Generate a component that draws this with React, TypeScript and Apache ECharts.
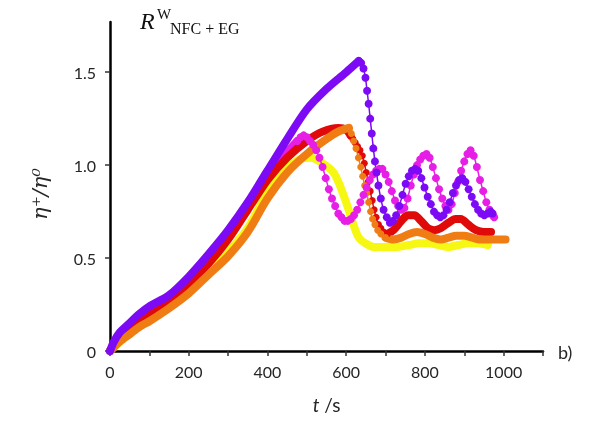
import React, { useEffect, useRef } from 'react';
import * as echarts from 'echarts';

// time (s), eta+/eta0
const purpleRise: [number, number][] = [
  [0, 0], [10, 0.05], [25, 0.1], [50, 0.15], [75, 0.2], [100, 0.24], [150, 0.3], [200, 0.4],
  [250, 0.52], [300, 0.65], [350, 0.8], [400, 0.97], [450, 1.14], [500, 1.3], [550, 1.41],
  [600, 1.5], [632, 1.56],
];
const purpleFall: [number, number][] = [
  [632, 1.56], [638, 1.55], [644, 1.52], [649, 1.47], [653, 1.4], [657, 1.33], [661, 1.25],
  [665, 1.17], [669, 1.09], [673, 1.02], [677, 0.96], [682, 0.89], [688, 0.82], [695, 0.76],
  [703, 0.72], [711, 0.69], [719, 0.7], [727, 0.73], [735, 0.78], [743, 0.84], [751, 0.9],
  [759, 0.94], [767, 0.97], [775, 0.98], [783, 0.97], [791, 0.93], [799, 0.88], [807, 0.83],
  [815, 0.79], [823, 0.75], [831, 0.73], [839, 0.72], [847, 0.73], [855, 0.76], [863, 0.8],
  [871, 0.85], [879, 0.89], [887, 0.92], [895, 0.93], [903, 0.91], [911, 0.87], [919, 0.83],
  [927, 0.79], [935, 0.76], [943, 0.74], [951, 0.73], [959, 0.74], [967, 0.75], [972, 0.74],
];
const magentaRise: [number, number][] = [
  [0, 0], [25, 0.08], [50, 0.13], [100, 0.21], [150, 0.28], [200, 0.37], [250, 0.48],
  [300, 0.61], [350, 0.77], [400, 0.93], [450, 1.07], [476, 1.13],
];
const magentaFall: [number, number][] = [
  [476, 1.13], [484, 1.15], [492, 1.16], [500, 1.15], [508, 1.13], [516, 1.11], [524, 1.08],
  [532, 1.04], [540, 0.99], [548, 0.93], [556, 0.87], [564, 0.82], [572, 0.78], [580, 0.74],
  [588, 0.72], [596, 0.7], [604, 0.7], [612, 0.71], [620, 0.73], [628, 0.76], [636, 0.8],
  [644, 0.84], [652, 0.88], [660, 0.92], [668, 0.95], [676, 0.97], [684, 0.98], [692, 0.98],
  [700, 0.95], [708, 0.91], [716, 0.86], [724, 0.81], [732, 0.78], [740, 0.76], [748, 0.77],
  [756, 0.82], [764, 0.89], [772, 0.95], [780, 1.0], [788, 1.03], [796, 1.05], [804, 1.06],
  [812, 1.04], [820, 0.99], [828, 0.93], [836, 0.87], [844, 0.82], [852, 0.78], [860, 0.76],
  [868, 0.79], [876, 0.85], [884, 0.91], [892, 0.97], [900, 1.02], [908, 1.06], [916, 1.08],
  [924, 1.05], [932, 0.99], [940, 0.92], [948, 0.86], [956, 0.8], [964, 0.76], [972, 0.73],
  [976, 0.72],
];
const redRise: [number, number][] = [
  [0, 0], [10, 0.03], [25, 0.07], [50, 0.12], [75, 0.16], [100, 0.2], [150, 0.27], [200, 0.36],
  [250, 0.47], [300, 0.6], [350, 0.76], [400, 0.92], [450, 1.04], [500, 1.13], [540, 1.18],
  [580, 1.2], [600, 1.19], [611, 1.16],
];
const redFall: [number, number][] = [
  [611, 1.16], [617, 1.14], [623, 1.12], [629, 1.1], [635, 1.08], [641, 1.05], [646, 1.01],
  [651, 0.96], [656, 0.91], [661, 0.86], [666, 0.81], [671, 0.76], [676, 0.72], [682, 0.68],
  [688, 0.66], [695, 0.64], [705, 0.63],
];
const redTail: [number, number][] = [
  [705, 0.63], [720, 0.65], [740, 0.7], [757, 0.73], [773, 0.73], [790, 0.7], [808, 0.66],
  [824, 0.65], [840, 0.66], [860, 0.69], [878, 0.71], [891, 0.71], [910, 0.68], [930, 0.65],
  [950, 0.64], [968, 0.64],
];
const orangeRise: [number, number][] = [
  [0, 0], [10, 0.02], [25, 0.05], [50, 0.09], [75, 0.13], [100, 0.16], [150, 0.23], [200, 0.31],
  [250, 0.41], [300, 0.51], [350, 0.64], [400, 0.82], [450, 0.96], [500, 1.06], [550, 1.14],
  [580, 1.18], [607, 1.2],
];
const orangeFall: [number, number][] = [
  [607, 1.2], [613, 1.17], [619, 1.13], [625, 1.09], [631, 1.04], [637, 0.99], [642, 0.94],
  [647, 0.89], [652, 0.85], [657, 0.8], [662, 0.75], [667, 0.71], [673, 0.68], [680, 0.65],
  [688, 0.63], [700, 0.61],
];
const orangeTail: [number, number][] = [
  [700, 0.61], [720, 0.6], [740, 0.61], [760, 0.63], [780, 0.64], [800, 0.63], [820, 0.61],
  [840, 0.6], [860, 0.61], [880, 0.62], [900, 0.62], [920, 0.61], [940, 0.6], [960, 0.6],
  [980, 0.6], [1005, 0.6],
];
const yellowAll: [number, number][] = [
  [0, 0], [10, 0.02], [25, 0.05], [50, 0.1], [75, 0.14], [100, 0.17], [150, 0.24], [200, 0.32],
  [250, 0.42], [300, 0.53], [350, 0.66], [400, 0.85], [450, 0.98], [480, 1.03], [510, 1.04],
  [540, 1.01], [568, 0.96], [586, 0.88], [603, 0.78], [620, 0.67], [632, 0.61], [648, 0.58],
  [670, 0.56], [700, 0.56], [730, 0.56], [760, 0.57], [785, 0.58], [810, 0.58], [835, 0.57],
  [860, 0.56], [885, 0.57], [910, 0.58], [935, 0.58], [960, 0.57],
];

const xTicks = [0, 200, 400, 600, 800, 1000];
const yTicks = [0, 0.5, 1.0, 1.5];

const PURPLE = '#7d0af5';
const MAGENTA = '#e61ee6';
const RED = '#e10a0a';
const ORANGE = '#f07d14';
const YELLOW = '#f7f714';

const thick = (data: [number, number][], color: string) => ({
  type: 'line',
  data,
  smooth: 0.3,
  showSymbol: false,
  symbol: 'none',
  lineStyle: { color, width: 8, cap: 'round', join: 'round' },
  itemStyle: { color },
});
const dotted = (data: [number, number][], color: string, size = 8) => ({
  type: 'line',
  data,
  smooth: 0.3,
  symbol: 'circle',
  symbolSize: size,
  showSymbol: true,
  lineStyle: { color, width: 1.5 },
  itemStyle: { color },
});

export default function App() {
  const ref = useRef<HTMLDivElement>(null);
  useEffect(() => {
    const chart = echarts.init(ref.current!, null, { renderer: 'svg' });
    const tickFont = { fontFamily: 'Lato', fontSize: 16, color: '#262626' };
    chart.setOption({
      animation: false,
      grid: { left: 110, top: 22, width: 433, height: 329, containLabel: false },
      xAxis: {
        type: 'value',
        min: 0,
        max: 1100,
        interval: 100,
        name: '{t|t}{s| /s}',
        nameLocation: 'middle',
        nameGap: 44,
        nameTextStyle: {
          rich: {
            t: { fontFamily: 'Lato', fontStyle: 'italic', fontSize: 19, color: '#262626' },
            s: { fontFamily: 'Lato', fontSize: 19, color: '#262626' },
          },
        },
        axisLine: { lineStyle: { color: '#000', width: 2.5 } },
        axisTick: { length: 5, lineStyle: { color: '#333', width: 1.5 } },
        axisLabel: {
          ...tickFont,
          margin: 12,
          formatter: (v: number) => (xTicks.includes(v) ? String(v) : ''),
        },
        splitLine: { show: false },
      },
      yAxis: {
        type: 'value',
        min: 0,
        max: 1.77,
        interval: 0.5,
        axisLine: { show: true, lineStyle: { color: '#000', width: 2.5 } },
        axisTick: { show: true, length: 5, lineStyle: { color: '#333', width: 1.5 } },
        axisLabel: {
          ...tickFont,
          margin: 14,
          showMaxLabel: false,
          formatter: (v: number) => {
            if (!yTicks.includes(v)) return '';
            return v === 0 ? '0' : v.toFixed(1);
          },
        },
        splitLine: { show: false },
      },
      graphic: [
        {
          type: 'text',
          x: 40,
          y: 194,
          rotation: Math.PI / 2,
          style: {
            text: 'η⁺/η⁰',
            fontFamily: 'DejaVu Serif',
            fontStyle: 'italic',
            fontSize: 21,
            align: 'center',
            verticalAlign: 'middle',
            fill: '#262626',
          },
        },
        {
          type: 'text', x: 140, y: 21,
          style: { text: 'R', fontFamily: 'Liberation Serif', fontStyle: 'italic', fontSize: 24, verticalAlign: 'middle', fill: '#111' },
        },
        {
          type: 'text', x: 157, y: 14,
          style: { text: 'W', fontFamily: 'Liberation Serif', fontSize: 15, verticalAlign: 'middle', fill: '#111' },
        },
        {
          type: 'text', x: 170, y: 28,
          style: { text: 'NFC + EG', fontFamily: 'Liberation Serif', fontSize: 16, verticalAlign: 'middle', fill: '#111' },
        },
        {
          type: 'text', x: 558, y: 352,
          style: { text: 'b)', fontFamily: 'Lato', fontSize: 18, verticalAlign: 'middle', fill: '#262626' },
        },
      ],
      series: [
        thick(yellowAll, YELLOW),
        thick(magentaRise, MAGENTA),
        thick(redRise, RED),
        dotted(redFall, RED, 7),
        thick(redTail, RED),
        thick(orangeRise, ORANGE),
        dotted(orangeFall, ORANGE, 7),
        thick(orangeTail, ORANGE),
        dotted(magentaFall, MAGENTA),
        thick(purpleRise, PURPLE),
        dotted(purpleFall, PURPLE),
      ],
    });
    return () => chart.dispose();
  }, []);
  return <div ref={ref} style={{ position: 'fixed', left: 0, top: 0, width: 605, height: 430 }} />;
}
